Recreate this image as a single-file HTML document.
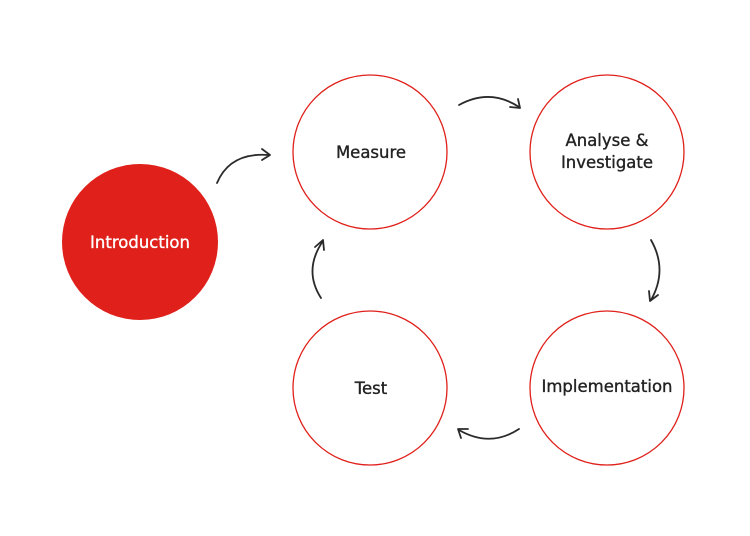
<!DOCTYPE html>
<html><head><style>
body{margin:0;background:#fff;}
</style></head><body>
<svg width="750" height="536" viewBox="0 0 750 536" xmlns="http://www.w3.org/2000/svg" style="display:block">
<g fill="#fff" stroke="#e0201a" stroke-width="1.3">
<circle cx="370" cy="152" r="77"/>
<circle cx="607" cy="152" r="77"/>
<circle cx="370" cy="388" r="77"/>
<circle cx="607" cy="388" r="77"/>
</g>
<circle cx="140" cy="242" r="78" fill="#e0201a"/>
<g fill="none" stroke="#2a2a2a" stroke-width="1.8" stroke-linecap="round" stroke-linejoin="round">
<path d="M217 183 Q230 152 269 155"/><path d="M262 149 L270 155 L262 160"/>
<path d="M459 105 Q490 88 519 107"/><path d="M510 107 L520 108 L518 99"/>
<path d="M651 240 Q668 270 651 300"/><path d="M649 291 L650 301 L658 295"/>
<path d="M519 429 Q490 448 459 430"/><path d="M468 429 L458 429 L461 438"/>
<path d="M321 298 Q303 270 323 241"/><path d="M315 247 L323 240 L324 250"/>
</g>
<g font-family="'DejaVu Sans',sans-serif" font-size="16.5" text-anchor="middle" fill="#222" stroke="#222" stroke-width="0.35">
<text x="140" y="248" fill="#fff" stroke="#fff">Introduction</text>
<text x="371" y="158">Measure</text>
<text x="607" y="146">Analyse &amp;</text>
<text x="607" y="168">Investigate</text>
<text x="371" y="394">Test</text>
<text x="607" y="392">Implementation</text>
</g>
</svg>
</body></html>
